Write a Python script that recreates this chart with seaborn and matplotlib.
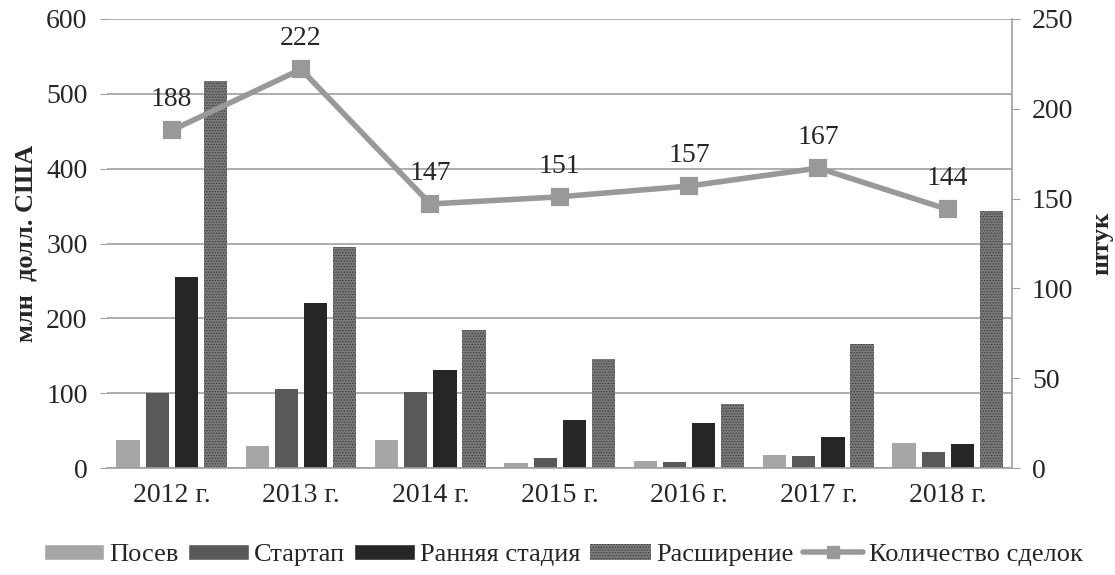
import pandas as pd
import matplotlib
matplotlib.use("Agg")
import matplotlib.pyplot as plt
import seaborn as sns
import numpy as np
from matplotlib.patches import Patch
from matplotlib.lines import Line2D

# Данные
years = ["2012 г.", "2013 г.", "2014 г.", "2015 г.", "2016 г.", "2017 г.", "2018 г."]
posev = [38, 29, 38, 7, 9, 17, 34]
startap = [100, 106, 102, 14, 8, 16, 21]
rannyaya = [255, 221, 131, 64, 60, 42, 32]
rasshirenie = [517, 295, 184, 146, 86, 166, 344]
sdelki = [188, 222, 147, 151, 157, 167, 144]

stages = ["Посев", "Стартап", "Ранняя стадия", "Расширение"]
colors = ["#a6a6a6", "#595959", "#262626", "#7a7a7a"]
line_label = "Количество сделок"

df = pd.DataFrame({"Год": years * 4,
                   "Стадия": sum([[s] * len(years) for s in stages], []),
                   "Сумма": posev + startap + rannyaya + rasshirenie})
df_line = pd.DataFrame({"Год": years, "Сделки": sdelki})

sns.set_style("white")
plt.rcParams['font.family'] = ['Liberation Serif', 'DejaVu Serif']
plt.rcParams['hatch.color'] = '#d0d0d0'
plt.rcParams['hatch.linewidth'] = 0.6

fig = plt.figure(figsize=(11.15, 5.75), dpi=100)
ax = fig.add_axes([0.096, 0.186, 0.812, 0.781])

sns.barplot(data=df, x="Год", y="Сумма", hue="Стадия", hue_order=stages,
            palette=colors, width=0.9, gap=0.2, legend=False, ax=ax,
            edgecolor="none", saturation=1)

# штриховка для "Расширение"
n = len(years)
for p in ax.patches[3 * n:4 * n]:
    p.set_hatch("......")
    p.set_edgecolor("#3a3a3a")
    p.set_linewidth(0)

ax.set_ylim(0, 600)
ax.set_yticks(np.arange(0, 601, 100))
ax.yaxis.grid(True, color="#a0a0a0", linewidth=1.2)
ax.set_axisbelow(True)
ax.set_xlabel("")
ax.set_ylabel("млн  долл. США", fontsize=19, fontweight="bold", labelpad=6)
ax.tick_params(axis="y", labelsize=20, length=5, color="#a0a0a0", left=True, pad=9)
ax.tick_params(axis="x", labelsize=20, length=0, pad=11)
for s in ["left", "top", "right"]:
    ax.spines[s].set_visible(False)
ax.spines["bottom"].set_color("#a0a0a0")
ax.spines["bottom"].set_linewidth(1.2)

ax2 = ax.twinx()
sns.pointplot(data=df_line, x="Год", y="Сделки", color="#999999", markers="s",
              markersize=10, linewidth=4, ax=ax2)
ax2.set_ylim(0, 250)
ax2.set_yticks(np.arange(0, 251, 50))
ax2.set_ylabel("штук", fontsize=19, fontweight="bold", labelpad=12)
ax2.tick_params(axis="y", labelsize=20, length=6, color="#a0a0a0", pad=8)
for s in ["left", "top", "bottom"]:
    ax2.spines[s].set_visible(False)
ax2.spines["right"].set_color("#a0a0a0")
ax2.spines["right"].set_linewidth(1.2)
ax2.set_xlabel("")

for i, v in enumerate(sdelki):
    ax2.annotate(str(v), (i, v), xytext=(0, 13), textcoords="offset points",
                 ha="center", va="bottom", fontsize=20)

handles = [Patch(facecolor=colors[0]), Patch(facecolor=colors[1]),
           Patch(facecolor=colors[2]),
           Patch(facecolor=colors[3], hatch="......", edgecolor="#3a3a3a", linewidth=0),
           Line2D([], [], color="#999999", linewidth=4, marker="s", markersize=9)]
fig.legend(handles, stages + [line_label], loc="center", ncol=5,
           bbox_to_anchor=(0.505, 0.035), frameon=False, fontsize=19,
           handlelength=2.3, handleheight=0.55, handletextpad=0.2,
           columnspacing=0.35, borderpad=0)

fig.savefig("out.png", dpi=100)
